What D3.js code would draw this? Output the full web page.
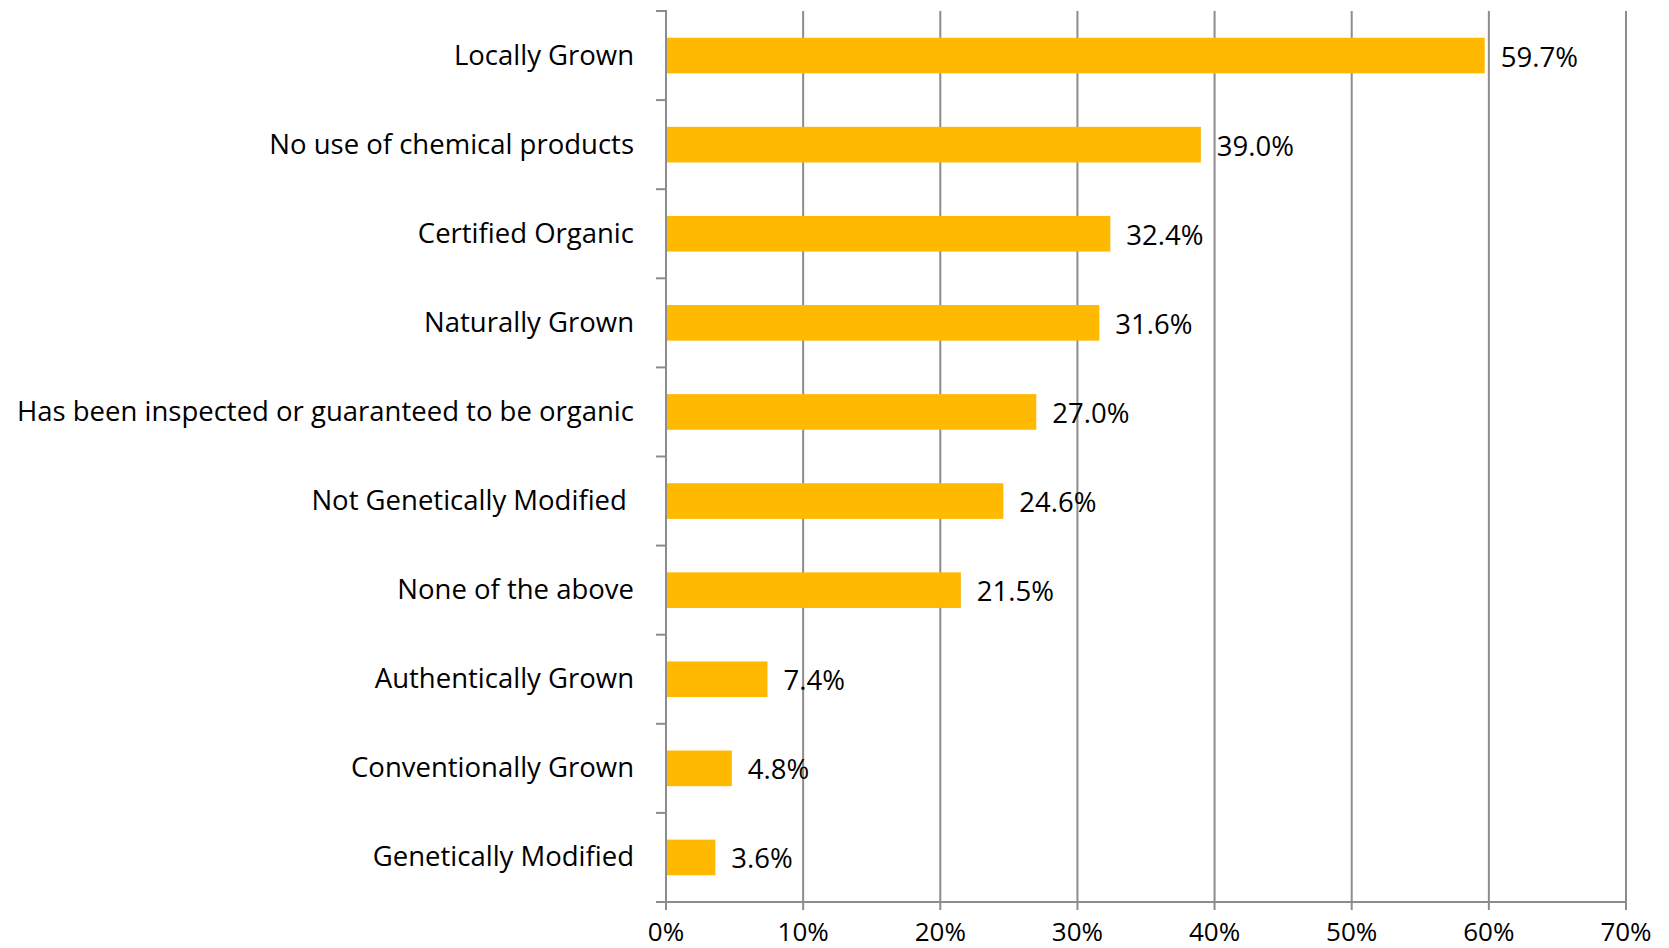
<!DOCTYPE html>
<html>
<head>
<meta charset="utf-8">
<script src="https://cdn.jsdelivr.net/npm/d3@7"></script>
<style>
  body { margin: 0; background: #fff; }
  text { font-family: "Open Sans", Lato, sans-serif; fill: #000; }
</style>
</head>
<body>
<div id="chart"></div>
<script>
// chart data
var categories = [
  "Locally Grown",
  "No use of chemical products",
  "Certified Organic",
  "Naturally Grown",
  "Has been inspected or guaranteed to be organic",
  "Not Genetically Modified ",
  "None of the above",
  "Authentically Grown",
  "Conventionally Grown",
  "Genetically Modified"
];
var values = [0.597, 0.390, 0.324, 0.316, 0.270, 0.246, 0.215, 0.074, 0.048, 0.036];
var xTicks = [0, 0.1, 0.2, 0.3, 0.4, 0.5, 0.6, 0.7];

var width = 1669, height = 948;
// plot area edges (note: "top" clashes with window.top, so use plot* names)
var plotLeft = 666, plotRight = 1626, plotTop = 11, plotBottom = 902;
var gridColor = '#8c8c8c';
var barColor = '#ffb900';
var fontSize = 27.5;

var svg = d3.select('#chart').append('svg')
  .attr('width', width)
  .attr('height', height);

var x = d3.scaleLinear().domain([0, 0.7]).range([plotLeft, plotRight]);
var y = d3.scaleBand().domain(categories).range([plotTop, plotBottom]).paddingInner(0.6).paddingOuter(0.3);

// vertical gridlines
svg.append('g').selectAll('line')
  .data(xTicks.slice(1))
  .join('line')
  .attr('x1', function(d) { return x(d); })
  .attr('x2', function(d) { return x(d); })
  .attr('y1', plotTop)
  .attr('y2', plotBottom)
  .attr('stroke', gridColor)
  .attr('stroke-width', 2);

// bars
svg.append('g').selectAll('rect')
  .data(values)
  .join('rect')
  .attr('x', x(0))
  .attr('y', function(d, i) { return y(categories[i]); })
  .attr('width', function(d) { return x(d) - x(0); })
  .attr('height', y.bandwidth())
  .attr('fill', barColor);

// value labels
svg.append('g').selectAll('text')
  .data(values)
  .join('text')
  .attr('x', function(d) { return x(d) + 16; })
  .attr('y', function(d, i) { return y(categories[i]) + y.bandwidth() / 2 + 11; })
  .attr('font-size', fontSize)
  .text(function(d) { return d3.format('.1%')(d); });

// y axis line + category ticks
var step = (plotBottom - plotTop) / categories.length;
svg.append('line')
  .attr('x1', plotLeft).attr('x2', plotLeft)
  .attr('y1', plotTop - 1).attr('y2', plotBottom)
  .attr('stroke', gridColor).attr('stroke-width', 2);
svg.append('g').selectAll('line')
  .data(d3.range(categories.length + 1))
  .join('line')
  .attr('x1', plotLeft - 10).attr('x2', plotLeft)
  .attr('y1', function(d) { return plotTop + d * step; })
  .attr('y2', function(d) { return plotTop + d * step; })
  .attr('stroke', gridColor).attr('stroke-width', 2);

// category labels
svg.append('g').selectAll('text')
  .data(categories)
  .join('text')
  .attr('x', 634)
  .attr('y', function(d) { return y(d) + y.bandwidth() / 2 + 9; })
  .attr('text-anchor', 'end')
  .attr('font-size', fontSize)
  .style('white-space', 'pre')
  .text(function(d) { return d; });

// x axis
svg.append('line')
  .attr('x1', plotLeft - 10).attr('x2', plotRight)
  .attr('y1', plotBottom).attr('y2', plotBottom)
  .attr('stroke', gridColor).attr('stroke-width', 2);
svg.append('g').selectAll('line')
  .data(xTicks)
  .join('line')
  .attr('x1', function(d) { return x(d); })
  .attr('x2', function(d) { return x(d); })
  .attr('y1', plotBottom).attr('y2', plotBottom + 8)
  .attr('stroke', gridColor).attr('stroke-width', 2);
svg.append('g').selectAll('text')
  .data(xTicks)
  .join('text')
  .attr('x', function(d) { return x(d); })
  .attr('y', 941)
  .attr('text-anchor', 'middle')
  .attr('font-size', 26)
  .text(function(d) { return d3.format('.0%')(d); });
</script>
</body>
</html>
